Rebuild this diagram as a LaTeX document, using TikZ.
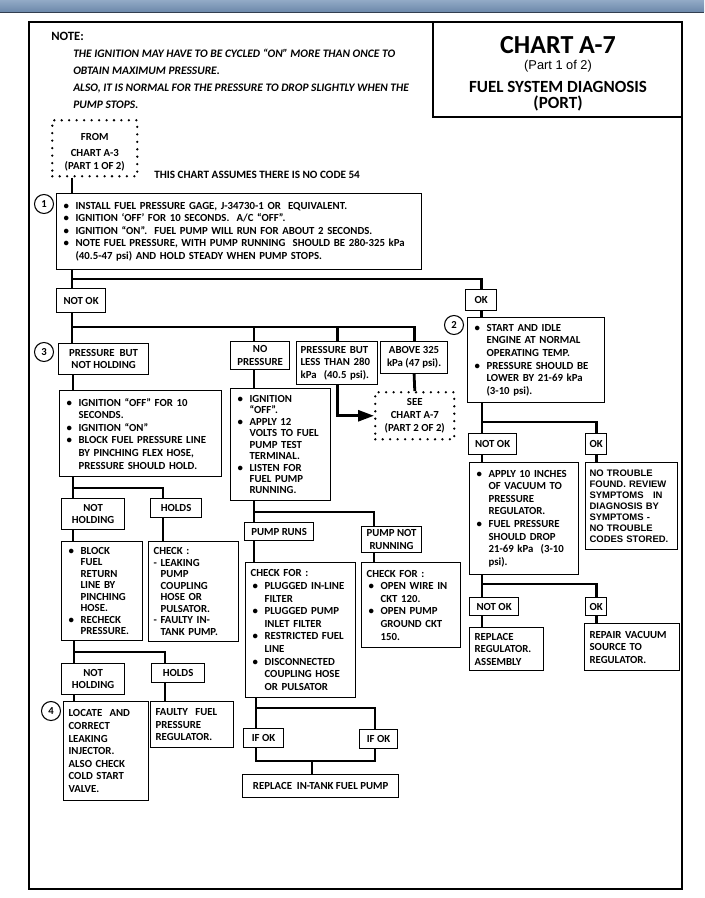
\documentclass[tikz,border=0pt]{standalone}
\usepackage{fontspec}
\setmainfont{Carlito}
\newfontfamily\arialfont{Liberation Sans}
\usetikzlibrary{arrows.meta,positioning}
\definecolor{barblue}{RGB}{108,136,170}
\definecolor{bartop}{RGB}{146,170,198}
\definecolor{bardark}{RGB}{50,62,80}
\newdimen\px \px=0.75pt
\newcommand{\bodyfont}{\bfseries\fontsize{8.1}{9.45}\selectfont}
\newcommand{\tightfont}{\bfseries\fontsize{8.1}{8.6}\selectfont}
\newcommand{\bi}{\makebox[14\px][l]{\hspace{2\px}\textbullet}}
\newcommand{\ct}{\hspace*{14\px}}
\newcommand{\dsh}{\makebox[7\px][l]{-}}
\newcommand{\dct}{\hspace*{7\px}}

\begin{document}
\begin{tikzpicture}[x=0.75pt,y=-0.75pt,
  box/.style={draw,line width=0.9pt,anchor=north west,align=left,
              inner xsep=5\px,inner ysep=2\px,font=\bodyfont},
  tag/.style={draw,line width=0.9pt,anchor=north west,align=center,
              inner sep=1\px,font=\bodyfont},
  dotbox/.style={tag,line width=1.9pt,dash pattern=on 0pt off 5.6pt,
                 line cap=round},
  tw/.style 2 args={text width=#1\px,minimum height=#2\px},
  wh/.style 2 args={minimum width=#1\px,minimum height=#2\px},
  num/.style={circle,draw,line width=0.8pt,minimum size=19\px,
              inner sep=0pt,font=\bfseries\fontsize{8}{8}\selectfont},
  ln/.style={line width=2.1pt},
  arr/.style={ln,-{Triangle[length=12pt,width=8.25pt]}}
]
\useasboundingbox (0,0) rectangle (704,898);
% banner and frame
\shade[top color=bartop,bottom color=barblue] (0,0) rectangle (704,12);
\draw[bardark,line width=1.2pt] (0,12.5) -- (704,12.5);
\draw[line width=1.5pt] (29,22) rectangle (682,889);
\draw[line width=1.5pt] (433,22) -- (433,117) -- (682,117);

% note and title
\node[anchor=west,inner sep=0pt,font=\bfseries\fontsize{9.5}{10}\selectfont] (note) at (51,36) {NOTE:};
\node[anchor=north west,align=left,inner sep=0pt,
      font=\bfseries\itshape\fontsize{8.6}{12.75}\selectfont] (notetext) at (73,49)
  {THE IGNITION MAY HAVE TO BE CYCLED ``ON'' MORE THAN ONCE TO\\
   OBTAIN MAXIMUM PRESSURE.\\
   ALSO, IT IS NORMAL FOR THE PRESSURE TO DROP SLIGHTLY WHEN THE\\
   PUMP STOPS.};
\node[font=\bfseries\fontsize{19.5}{20}\selectfont] (chart) at (558,45) {CHART A-7};
\node[font=\arialfont\fontsize{9.6}{10}\selectfont] (part) at (558,66) {(Part 1 of 2)};
\node[font=\bfseries\fontsize{12.8}{13}\selectfont] (diag) at (558,87) {FUEL SYSTEM DIAGNOSIS};
\node[font=\bfseries\fontsize{12.8}{13}\selectfont] (port) at (558,103) {(PORT)};

% start
\node[dotbox,wh={85}{56}] (from) at (51,119) {\rule{0pt}{15\px}FROM\\[4\px]CHART A-3\\(PART 1 OF 2)};
\node[anchor=west,inner sep=0pt,font=\bfseries\fontsize{8.4}{9}\selectfont] (assume) at (154,175) {THIS CHART ASSUMES THERE IS NO CODE 54};
\node[num] (n1) at (44,204) {1};
\node[box,tw={355}{76}] (step1) at (56,193)
  {\bi INSTALL FUEL PRESSURE GAGE, J-34730-1 OR\ \ EQUIVALENT.\\
   \bi IGNITION `OFF' FOR 10 SECONDS.\ \ A/C ``OFF''.\\
   \bi IGNITION ``ON''.\ \ FUEL PUMP WILL RUN FOR ABOUT 2 SECONDS.\\
   \bi NOTE FUEL PRESSURE, WITH PUMP RUNNING\ \ SHOULD BE 280-325 kPa\\
   \ct (40.5-47 psi) AND HOLD STEADY WHEN PUMP STOPS.};
\node[tag,wh={49}{24}] (notok1) at (56,288) {NOT OK};
\node[tag,wh={31}{21}] (ok1) at (465,289) {OK};

% not ok branch
\node[num] (n3) at (44,352) {3};
\node[tag,wh={90}{31}] (pbnh) at (58,343) {PRESSURE\ \ BUT\\NOT HOLDING};
\node[tag,wh={59}{28}] (nopress) at (230,341) {NO\\PRESSURE};
\node[box,tw={73}{43},inner xsep=4\px] (pless) at (296,341) {PRESSURE BUT\\LESS THAN 280\\kPa\ \ (40.5 psi).};
\node[tag,wh={67}{32}] (above) at (380,341) {ABOVE 325\\kPa (47 psi).};
\node[dotbox,wh={79}{47}] (see) at (374,391) {SEE\\CHART A-7\\(PART 2 OF 2)};

\node[box,tw={152}{86}] (ign) at (59,390)
  {\bi IGNITION ``OFF'' FOR 10\\ \ct SECONDS.\\ \bi IGNITION ``ON''\\
   \bi BLOCK FUEL PRESSURE LINE\\ \ct BY PINCHING FLEX HOSE,\\ \ct PRESSURE SHOULD HOLD.};
\node[tag,wh={63}{31}] (nothold1) at (61,498) {NOT\\HOLDING};
\node[tag,wh={51}{19}] (holds1) at (150,498) {HOLDS};
\node[box,tw={71}{99},font=\tightfont] (block) at (61,541)
  {\bi BLOCK\\ \ct FUEL\\ \ct RETURN\\ \ct LINE BY\\ \ct PINCHING\\ \ct HOSE.\\ \bi RECHECK\\ \ct PRESSURE.};
\node[box,tw={80}{100},font=\tightfont] (check1) at (148,541)
  {CHECK :\\ \dsh LEAKING\\ \dct PUMP\\ \dct COUPLING\\ \dct HOSE OR\\ \dct PULSATOR.\\ \dsh FAULTY IN-\\ \dct TANK PUMP.};
\node[tag,wh={63}{31}] (nothold2) at (61,663) {NOT\\HOLDING};
\node[tag,wh={53}{19}] (holds2) at (151,663) {HOLDS};
\node[num] (n4) at (51,711) {4};
\node[box,tw={75}{99}] (locate) at (63,701)
  {LOCATE\ \ AND\\CORRECT\\LEAKING\\INJECTOR.\\ALSO CHECK\\COLD START\\VALVE.};
\node[box,tw={73}{46}] (faulty) at (150,701) {FAULTY\ \ FUEL\\PRESSURE\\REGULATOR.};

% no pressure branch
\node[box,tw={90}{112},font=\tightfont] (test) at (230,388)
  {\bi IGNITION\\ \ct ``OFF''.\\ \bi APPLY 12\\ \ct VOLTS TO FUEL\\ \ct PUMP TEST\\ \ct TERMINAL.\\
   \bi LISTEN FOR\\ \ct FUEL PUMP\\ \ct RUNNING.};
\node[tag,wh={69}{18}] (runs) at (244,522) {PUMP RUNS};
\node[tag,wh={60}{26}] (notrun) at (361,526) {PUMP NOT\\RUNNING};
\node[box,tw={100}{135}] (chk1) at (245,562)
  {CHECK FOR :\\ \bi PLUGGED IN-LINE\\ \ct FILTER\\ \bi PLUGGED PUMP\\ \ct INLET FILTER\\
   \bi RESTRICTED FUEL\\ \ct LINE\\ \bi DISCONNECTED\\ \ct COUPLING HOSE\\ \ct OR PULSATOR};
\node[box,tw={89}{85}] (chk2) at (361,562)
  {CHECK FOR :\\ \bi OPEN WIRE IN\\ \ct CKT 120.\\ \bi OPEN PUMP\\ \ct GROUND CKT\\ \ct 150.};
\node[tag,wh={40}{19}] (ifok1) at (243,728) {IF OK};
\node[tag,wh={38}{19}] (ifok2) at (359,729) {IF OK};
\node[tag,wh={156}{23}] (repl) at (242,774) {REPLACE\ \ IN-TANK FUEL PUMP};

% ok branch
\node[num] (n2) at (454,325) {2};
\node[box,tw={127}{85}] (start) at (467,317)
  {\bi START AND IDLE\\ \ct ENGINE AT NORMAL\\ \ct OPERATING TEMP.\\
   \bi PRESSURE SHOULD BE\\ \ct LOWER BY 21-69 kPa\\ \ct (3-10 psi).};
\node[tag,wh={48}{21}] (notok2) at (468,433) {NOT OK};
\node[tag,wh={21}{21}] (ok2) at (585,433) {OK};
\node[box,tw={99}{112}] (vac) at (469,462)
  {\bi APPLY 10 INCHES\\ \ct OF VACUUM TO\\ \ct PRESSURE\\ \ct REGULATOR.\\
   \bi FUEL PRESSURE\\ \ct SHOULD DROP\\ \ct 21-69 kPa\ \ (3-10\\ \ct psi).};
\node[box,tw={84}{87},inner xsep=4\px,font=\arialfont\bfseries\fontsize{7.1}{8.25}\selectfont] (nofault) at (585,462)
  {NO TROUBLE\\FOUND. REVIEW\\SYMPTOMS\hspace{1em}IN\\DIAGNOSIS BY\\SYMPTOMS -\\NO TROUBLE\\CODES STORED.};
\node[tag,wh={49}{18}] (notok3) at (469,597) {NOT OK};
\node[tag,wh={21}{18}] (ok3) at (585,597) {OK};
\node[box,tw={64}{43}] (replreg) at (469,627) {REPLACE\\REGULATOR.\\ASSEMBLY};
\node[box,tw={85}{47}] (repvac) at (584,623) {REPAIR VACUUM\\SOURCE TO\\REGULATOR.};

% junctions
\coordinate (j1) at (72,279);
\coordinate (j2) at (72,327);
\coordinate (j2m) at (254,327);
\coordinate (j3) at (482,422);
\coordinate (j4) at (482,584);
\coordinate (j5) at (73,488);  \coordinate (j5r) at (163,488);
\coordinate (j6) at (74,652);  \coordinate (j6r) at (165,652);
\coordinate (j7) at (254,512); \coordinate (j7r) at (374,512);
\coordinate (j8) at (256,708); \coordinate (j8r) at (375,708);
\coordinate (j9) at (256,761); \coordinate (j9r) at (375,761);
\coordinate (j9m) at (312,761);

% connectors
\draw[ln] (from.south -| j1) -- (step1.north -| j1);
\draw[ln] (step1.south -| j1) -- (notok1.north -| j1);
\draw[ln] (j1) -| (ok1.north);
\draw[ln] (notok1.south -| j2) -- (pbnh.north -| j2);
\draw[ln] (j2) -| (above.north);
\draw[ln] (j2m) -- (nopress.north -| j2m);
\draw[ln] (pless.north |- j2) -- (pless.north);
\draw[arr] (pless.south) |- (see.west);
\draw[ln] (above.south) -- (see.north);

\draw[ln] (ok1.south) -- (start.north -| ok1);
\draw[ln] (start.south -| j3) -- (notok2.north -| j3);
\draw[ln] (j3) -| (ok2.north);
\draw[ln] (notok2.south -| j3) -- (vac.north -| j3);
\draw[ln] (ok2.south) -- (nofault.north -| ok2);
\draw[ln] (vac.south -| j4) -- (notok3.north -| j4);
\draw[ln] (j4) -| (ok3.north);
\draw[ln] (notok3.south -| j4) -- (replreg.north -| j4);
\draw[ln] (ok3.south) -- (repvac.north -| ok3);

\draw[ln] (pbnh.south -| j5) -- (ign.north -| j5);
\draw[ln] (ign.south -| j5) -- (nothold1.north -| j5);
\draw[ln] (j5) -- (j5r) -- (holds1.north -| j5r);
\draw[ln] (nothold1.south -| j5) -- (block.north -| j5);
\draw[ln] (holds1.south -| j5r) -- (check1.north -| j5r);
\draw[ln] (block.south -| j6) -- (nothold2.north -| j6);
\draw[ln] (j6) -- (j6r) -- (holds2.north -| j6r);
\draw[ln] (nothold2.south -| j6) -- (locate.north -| j6);
\draw[ln] (holds2.south -| j6r) -- (faulty.north -| j6r);

\draw[ln] (nopress.south -| j2m) -- (test.north -| j2m);
\draw[ln] (test.south -| j7) -- (runs.north -| j7);
\draw[ln] (j7) -- (j7r) -- (notrun.north -| j7r);
\draw[ln] (runs.south -| j7) -- (chk1.north -| j7);
\draw[ln] (notrun.south -| j7r) -- (chk2.north -| j7r);
\draw[ln] (chk1.south -| j8) -- (ifok1.north -| j8);
\draw[ln] (j8) -- (j8r) -- (ifok2.north -| j8r);
\draw[ln] (ifok1.south -| j9) -- (j9) -- (j9r) -- (ifok2.south -| j9r);
\draw[ln] (j9m) -- (repl.north -| j9m);
\end{tikzpicture}
\end{document}
